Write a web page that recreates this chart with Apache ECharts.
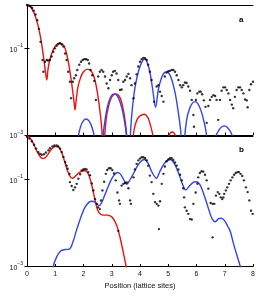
<!DOCTYPE html>
<html><head><meta charset="utf-8">
<script src="https://cdn.jsdelivr.net/npm/echarts@6/dist/echarts.min.js"></script>
<style>html,body{margin:0;padding:0;background:#fff}#c{width:267px;height:297px}</style>
</head><body><div id="c"></div>
<script>
// values are [position, log10(probability)]
const xTicks = [0,1,2,3,4,5,6,7,8];
const yTickValues = [0.001, 0.1];
const panelLabels = ['a', 'b'];

const topDots = [[0,0],[0.06,-0.01],[0.12,-0.03],[0.18,-0.07],[0.24,-0.13],[0.3,-0.22],[0.36,-0.35],[0.42,-0.55],[0.48,-0.85],[0.55,-1.27],[0.58,-1.54],[0.64,-1.31],[0.7,-1.27],[0.75,-1.28],[0.81,-1.27],[0.87,-1.19],[0.93,-1.08],[0.99,-1.0],[1.05,-0.94],[1.11,-0.9],[1.17,-0.88],[1.23,-0.91],[1.29,-0.96],[1.35,-1.12],[1.4,-1.27],[1.46,-1.54],[1.52,-1.77],[1.56,-2.15],[1.62,-1.77],[1.67,-1.69],[1.73,-1.62],[1.78,-1.5],[1.85,-1.38],[1.91,-1.31],[1.97,-1.27],[2.03,-1.25],[2.09,-1.25],[2.15,-1.27],[2.2,-1.35],[2.25,-1.5],[2.31,-1.62],[2.38,-1.75],[2.44,-2.19],[2.52,-1.65],[2.58,-1.54],[2.64,-1.5],[2.7,-1.54],[2.76,-1.65],[2.82,-1.81],[2.88,-1.92],[2.94,-1.73],[3.0,-1.62],[3.05,-1.54],[3.11,-1.52],[3.17,-1.58],[3.23,-1.73],[3.29,-1.96],[3.35,-1.95],[3.41,-1.77],[3.47,-1.73],[3.53,-1.65],[3.59,-1.59],[3.65,-1.69],[3.7,-1.85],[3.77,-2.15],[3.82,-1.81],[3.88,-1.6],[3.94,-1.42],[4.0,-1.31],[4.06,-1.25],[4.12,-1.22],[4.18,-1.23],[4.24,-1.27],[4.29,-1.38],[4.35,-1.54],[4.41,-1.73],[4.5,-2.23],[4.59,-1.88],[4.65,-1.85],[4.71,-2.0],[4.77,-2.1],[4.83,-2.23],[4.88,-1.65],[4.94,-1.56],[5.0,-1.53],[5.06,-1.52],[5.12,-1.5],[5.18,-1.5],[5.24,-1.54],[5.3,-1.62],[5.36,-1.73],[5.42,-1.85],[5.48,-1.9],[5.53,-1.85],[5.59,-1.79],[5.65,-1.8],[5.71,-1.88],[5.77,-1.98],[5.83,-2.19],[5.89,-2.54],[5.91,-2.81],[5.98,-2.19],[6.03,-2.04],[6.1,-2.0],[6.15,-2.0],[6.2,-2.06],[6.26,-2.2],[6.32,-2.35],[6.36,-2.72],[6.42,-2.33],[6.48,-2.19],[6.54,-2.12],[6.6,-2.08],[6.66,-2.1],[6.71,-2.19],[6.77,-2.65],[6.83,-2.19],[6.89,-1.98],[6.95,-1.9],[7.01,-1.9],[7.07,-1.96],[7.13,-2.04],[7.19,-2.19],[7.25,-2.3],[7.3,-2.38],[7.36,-2.12],[7.42,-1.96],[7.48,-1.9],[7.54,-1.9],[7.6,-1.96],[7.66,-2.04],[7.72,-2.18],[7.78,-2.2],[7.81,-2.36],[7.87,-1.96],[7.93,-1.83],[8.0,-1.77]];

const topRed = [[0,0],[0.1,-0.03],[0.2,-0.12],[0.3,-0.27],[0.4,-0.5],[0.5,-0.82],[0.6,-1.27],[0.66,-1.58],[0.7,-1.73],[0.74,-1.5],[0.8,-1.28],[0.9,-1.08],[1.0,-0.95],[1.14,-0.88],[1.3,-0.93],[1.4,-1.12],[1.5,-1.45],[1.6,-1.9],[1.66,-2.2],[1.7,-2.42],[1.74,-2.2],[1.8,-1.9],[1.9,-1.67],[2.0,-1.54],[2.15,-1.48],[2.3,-1.55],[2.4,-1.72],[2.5,-2.05],[2.6,-2.55],[2.66,-3.0],[2.7,-5],[2.74,-3.2],[2.8,-2.65],[2.9,-2.3],[3.0,-2.12],[3.14,-2.05],[3.28,-2.12],[3.38,-2.32],[3.48,-2.7],[3.55,-3.2],[3.6,-5],[3.72,-3.3],[3.8,-2.85],[3.9,-2.64],[4.0,-2.56],[4.15,-2.52],[4.28,-2.6],[4.38,-2.8],[4.47,-3.05],[4.55,-3.5],[4.7,-5],[4.9,-3.4],[5.0,-3.05],[5.14,-2.93],[5.28,-3.05],[5.4,-3.4],[5.55,-5]];

const topBlue = [[1.5,-5],[1.8,-3.1],[1.9,-2.8],[2.0,-2.67],[2.09,-2.63],[2.2,-2.68],[2.3,-2.82],[2.4,-3.1],[2.55,-5],[2.7,-3.0],[2.8,-2.5],[2.9,-2.22],[3.0,-2.08],[3.09,-2.05],[3.2,-2.1],[3.3,-2.25],[3.4,-2.5],[3.5,-2.9],[3.57,-3.5],[3.6,-5],[3.64,-3.3],[3.7,-2.6],[3.8,-2.0],[3.9,-1.65],[4.0,-1.42],[4.1,-1.28],[4.17,-1.25],[4.25,-1.32],[4.35,-1.55],[4.45,-1.95],[4.55,-2.36],[4.65,-1.95],[4.75,-1.7],[4.85,-1.57],[4.94,-1.54],[5.05,-1.6],[5.15,-1.78],[5.25,-2.05],[5.35,-2.45],[5.45,-3.0],[5.52,-5],[5.57,-3.2],[5.65,-2.65],[5.75,-2.4],[5.85,-2.27],[5.95,-2.23],[6.05,-2.28],[6.15,-2.42],[6.25,-2.65],[6.35,-3.0],[6.45,-5],[6.68,-3.05],[6.8,-2.88],[6.9,-2.81],[7.0,-2.79],[7.1,-2.83],[7.2,-2.92],[7.3,-3.1],[7.45,-5]];

const botDots = [[0,-0.02],[0.08,-0.06],[0.17,-0.12],[0.25,-0.2],[0.32,-0.29],[0.4,-0.37],[0.46,-0.41],[0.52,-0.43],[0.6,-0.42],[0.67,-0.38],[0.76,-0.33],[0.81,-0.28],[0.9,-0.24],[0.97,-0.22],[1.05,-0.22],[1.11,-0.24],[1.17,-0.29],[1.23,-0.37],[1.29,-0.48],[1.35,-0.6],[1.4,-0.68],[1.44,-0.75],[1.5,-0.87],[1.52,-1.06],[1.58,-1.15],[1.64,-1.24],[1.7,-1.18],[1.76,-1.1],[1.82,-0.98],[1.88,-0.88],[1.94,-0.79],[1.99,-0.77],[2.05,-0.76],[2.11,-0.77],[2.17,-0.83],[2.23,-0.9],[2.29,-1.09],[2.35,-1.25],[2.41,-1.45],[2.47,-1.56],[2.52,-1.64],[2.58,-1.68],[2.62,-1.48],[2.67,-1.25],[2.73,-1.05],[2.79,-0.87],[2.84,-0.78],[2.9,-0.74],[2.96,-0.74],[3.02,-0.78],[3.08,-0.86],[3.14,-1.02],[3.2,-1.3],[3.23,-2.18],[3.26,-1.48],[3.29,-1.56],[3.35,-1.14],[3.41,-1.1],[3.47,-1.08],[3.53,-1.07],[3.59,-1.2],[3.65,-1.48],[3.68,-1.56],[3.77,-0.95],[3.82,-0.77],[3.88,-0.64],[3.94,-0.56],[4.0,-0.52],[4.06,-0.49],[4.12,-0.49],[4.18,-0.51],[4.24,-0.56],[4.29,-0.68],[4.35,-0.91],[4.41,-1.06],[4.47,-1.33],[4.53,-1.52],[4.59,-1.56],[4.65,-1.6],[4.67,-2.14],[4.71,-1.5],[4.77,-1.1],[4.83,-0.87],[4.88,-0.7],[4.94,-0.58],[5.0,-0.54],[5.06,-0.51],[5.12,-0.51],[5.18,-0.55],[5.24,-0.61],[5.3,-0.68],[5.36,-0.77],[5.42,-0.89],[5.48,-1.02],[5.53,-1.2],[5.56,-1.41],[5.59,-1.64],[5.65,-1.72],[5.71,-1.79],[5.77,-1.91],[5.83,-1.92],[5.89,-1.56],[5.97,-1.3],[6.03,-1.1],[6.06,-0.95],[6.12,-0.85],[6.18,-0.81],[6.24,-0.82],[6.3,-0.89],[6.36,-1.02],[6.42,-1.21],[6.5,-1.54],[6.57,-1.56],[6.57,-2.33],[6.63,-1.56],[6.69,-1.37],[6.75,-1.29],[6.81,-1.33],[6.86,-1.41],[6.91,-1.45],[6.95,-1.41],[6.98,-1.33],[7.04,-1.25],[7.09,-1.18],[7.15,-1.1],[7.21,-1.02],[7.27,-0.95],[7.33,-0.89],[7.39,-0.85],[7.45,-0.83],[7.5,-0.83],[7.56,-0.87],[7.62,-0.92],[7.68,-1.02],[7.75,-1.18],[7.81,-1.29],[7.87,-1.48],[7.93,-1.72],[7.99,-1.79]];

const botRed = [[0,0],[0.1,-0.04],[0.2,-0.14],[0.3,-0.28],[0.4,-0.41],[0.5,-0.5],[0.58,-0.52],[0.7,-0.46],[0.8,-0.36],[0.9,-0.28],[1.0,-0.24],[1.05,-0.24],[1.15,-0.28],[1.25,-0.42],[1.35,-0.62],[1.45,-0.83],[1.55,-0.95],[1.62,-0.97],[1.72,-0.92],[1.85,-0.84],[2.0,-0.8],[2.1,-0.81],[2.2,-0.92],[2.3,-1.15],[2.4,-1.45],[2.5,-1.7],[2.6,-1.8],[2.72,-1.82],[2.86,-1.82],[3.0,-1.86],[3.1,-1.95],[3.2,-2.1],[3.3,-2.35],[3.4,-2.65],[3.5,-2.97],[3.6,-3.3]];

const botBlue = [[0.8,-3.6],[0.93,-3.0],[1.05,-2.78],[1.2,-2.64],[1.35,-2.61],[1.5,-2.6],[1.62,-2.45],[1.75,-2.17],[1.9,-1.88],[2.05,-1.64],[2.2,-1.52],[2.3,-1.5],[2.42,-1.53],[2.55,-1.6],[2.65,-1.52],[2.75,-1.36],[2.85,-1.2],[2.95,-1.05],[3.05,-0.93],[3.2,-0.84],[3.3,-0.87],[3.42,-1.0],[3.53,-1.11],[3.65,-1.0],[3.78,-0.85],[3.9,-0.7],[4.02,-0.59],[4.15,-0.54],[4.28,-0.62],[4.4,-0.8],[4.58,-0.97],[4.7,-0.82],[4.85,-0.64],[5.0,-0.55],[5.08,-0.54],[5.2,-0.62],[5.35,-0.83],[5.5,-1.1],[5.62,-1.24],[5.75,-1.15],[5.9,-1.06],[6.0,-1.05],[6.12,-1.12],[6.25,-1.32],[6.4,-1.62],[6.55,-1.9],[6.67,-1.97],[6.78,-1.9],[6.88,-1.89],[7.0,-1.95],[7.1,-2.07],[7.2,-2.2],[7.3,-2.45],[7.42,-2.72],[7.55,-3.0],[7.65,-3.3]];

const toVal = a => a.map(p => [p[0], Math.pow(10, p[1])]);
const FONT = 'Liberation Sans';
const RED = '#ee1111', BLUE = '#3344ee';

const labelFmt = v => {
  const e = Math.round(Math.log10(v));
  if (e !== -1 && e !== -3) return '';
  return '{b|10}{s|\u2212' + (-e) + '}';
};
const yRich = {
  b: {fontSize: 7, fontFamily: FONT, color: '#111', lineHeight: 10, verticalAlign: 'bottom'},
  s: {fontSize: 5, fontFamily: FONT, color: '#111', lineHeight: 10, verticalAlign: 'top', padding:[0,0,3,0]}
};
function yAx(gi, right) {
  return {
    type: 'log', logBase: 10, min: 0.001, max: 1, gridIndex: gi,
    position: right ? 'right' : 'left',
    axisLine: {show: true, lineStyle: {color: '#000', width: 1}},
    axisTick: {show: true, inside: true, length: 2.5, lineStyle: {color: '#000'}, customValues: yTickValues},
    axisLabel: {show: !right, formatter: labelFmt, rich: yRich, margin: 4, customValues: yTickValues},
    splitLine: {show: false}, minorTick: {show: false}
  };
}
function xAx(gi, showLabels) {
  const ax = {
    type: 'value', min: 0, max: 8, interval: 1, gridIndex: gi,
    axisLine: {show: true, onZero: false, lineStyle: {color: '#000', width: 1}},
    axisTick: {show: true, inside: true, length: 2.5, lineStyle: {color: '#000'}},
    axisLabel: {show: showLabels, fontSize: 7, fontFamily: FONT, color: '#111', margin: 4,
      formatter: v => xTicks.indexOf(v) >= 0 ? String(v) : ''},
    splitLine: {show: false}
  };
  if (showLabels) {
    ax.name = 'Position (lattice sites)';
    ax.nameLocation = 'middle';
    ax.nameGap = 15;
    ax.nameTextStyle = {fontSize: 7.5, fontFamily: FONT, color: '#111'};
  }
  return ax;
}
function topAx(gi) {
  return {type: 'value', min: 0, max: 8, gridIndex: gi, position: 'top',
    axisLine: {show: true, onZero: false, lineStyle: {color: '#000', width: 1}},
    axisTick: {show: false}, axisLabel: {show: false}, splitLine: {show: false}};
}
const lineS = (data, color, xi, yi, z) => ({type: 'line', data: toVal(data), xAxisIndex: xi, yAxisIndex: yi,
  showSymbol: false, smooth: 0.35, clip: true, z: z,
  lineStyle: {color: color, width: 1.4}, itemStyle: {color: color}});
const dotS = (data, xi, yi) => ({type: 'scatter', data: toVal(data), xAxisIndex: xi, yAxisIndex: yi,
  symbolSize: 2.4, itemStyle: {color: '#000'}, z: 5, clip: true});

const chart = echarts.init(document.getElementById('c'), null, {renderer: 'canvas'});
chart.setOption({
  animation: false,
  backgroundColor: '#fff',
  grid: [
    {left: 27, right: 14, top: 5, height: 130},
    {left: 27, right: 14, top: 136, height: 130.5}
  ],
  xAxis: [xAx(0, false), xAx(1, true), topAx(0), topAx(1)],
  yAxis: [yAx(0, false), yAx(1, false), yAx(0, true), yAx(1, true)],
  graphic: [
    {type: 'text', left: 239, top: 16, style: {text: panelLabels[0], fontSize: 8, fontWeight: 'bold', fontFamily: FONT, fill: '#000'}},
    {type: 'text', left: 239, top: 146, style: {text: panelLabels[1], fontSize: 8, fontWeight: 'bold', fontFamily: FONT, fill: '#000'}}
  ],
  series: [
    lineS(topRed, RED, 0, 0, 2),
    lineS(topBlue, BLUE, 0, 0, 3),
    dotS(topDots, 0, 0),
    lineS(botRed, RED, 1, 1, 2),
    lineS(botBlue, BLUE, 1, 1, 3),
    dotS(botDots, 1, 1)
  ]
});
</script></body></html>
